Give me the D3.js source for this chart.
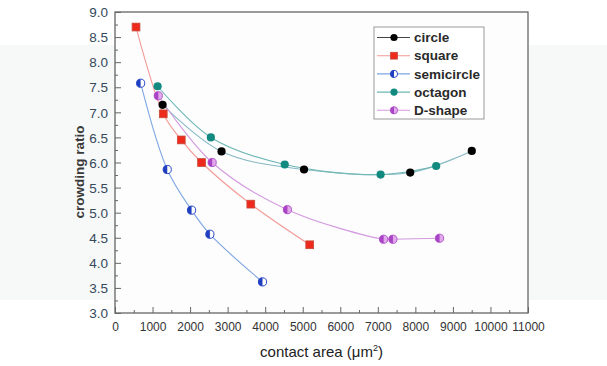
<!DOCTYPE html>
<html>
<head>
<meta charset="utf-8">
<script src="https://cdn.jsdelivr.net/npm/d3@7"></script>
<style>
  body { margin: 0; background: #fff; }
  text { font-family: "Liberation Sans", Arial, sans-serif; }
</style>
</head>
<body>
<div id="chart"></div>
<script>
// data
const circleX = [1268, 2837, 5035, 7863, 9503];
const circleY = [7.15, 6.22, 5.86, 5.80, 6.23];
const squareX = [560, 1285, 1765, 2305, 3617, 5186];
const squareY = [8.70, 6.97, 6.45, 6.00, 5.17, 4.36];
const semiX = [683, 1391, 2039, 2527, 3928];
const semiY = [7.58, 5.86, 5.05, 4.57, 3.62];
const octX = [1135, 2553, 4521, 7074, 8555];
const octY = [7.52, 6.50, 5.96, 5.76, 5.93];
const dX = [1153, 2588, 4592, 7154, 7402, 8644];
const dY = [7.33, 6.00, 5.06, 4.47, 4.47, 4.49];

const seriesNames = ["circle", "square", "semicircle", "octagon", "D-shape"];
const xTicks = d3.range(0, 11001, 1000);
const yTicks = d3.range(3.0, 9.01, 0.5);

const width = 607, height = 366;
const margin = { top: 12, right: 79, bottom: 53, left: 115 };
const w = width - margin.left - margin.right;
const h = height - margin.top - margin.bottom;

const series = [
  { name: "circle", xs: circleX, ys: circleY, line: "#86b9c4", marker: "circle" },
  { name: "square", xs: squareX, ys: squareY, line: "#f29a96", marker: "square" },
  { name: "semicircle", xs: semiX, ys: semiY, line: "#7ea6e4", marker: "semi" },
  { name: "octagon", xs: octX, ys: octY, line: "#6fb8b6", marker: "octagon" },
  { name: "D-shape", xs: dX, ys: dY, line: "#d39ae0", marker: "dshape" }
];

const svg = d3.select("#chart").append("svg")
  .attr("width", width).attr("height", height);

// faint scan band in the reference
svg.append("rect").attr("x", 0).attr("y", 45).attr("width", width).attr("height", 255)
  .attr("fill", "#f7f8f8");

const g = svg.append("g").attr("transform", "translate(" + margin.left + "," + margin.top + ")");

const x = d3.scaleLinear().domain([0, 11000]).range([0, w]);
const y = d3.scaleLinear().domain([3, 9]).range([h, 0]);

g.append("rect").attr("width", w).attr("height", h).attr("fill", "#fdfdfd");

// axes with inward ticks
const axisColor = "#666";
const xMinor = g.append("g").attr("transform", "translate(0," + h + ")")
  .call(d3.axisTop(x).tickValues(d3.range(500, 11000, 1000)).tickSize(3).tickFormat(""));
const xAxis = g.append("g").attr("transform", "translate(0," + h + ")")
  .call(d3.axisTop(x).tickValues(xTicks).tickSize(6).tickFormat(""));
xAxis.selectAll(".tick").append("text")
  .attr("y", 18).attr("text-anchor", "middle").attr("fill", "#333")
  .attr("font-size", 12).text(d => d);

const yMinor = g.append("g")
  .call(d3.axisRight(y).tickValues(d3.range(3.25, 9, 0.5)).tickSize(3).tickFormat(""));
const yAxis = g.append("g")
  .call(d3.axisRight(y).tickValues(yTicks).tickSize(6).tickFormat(""));
yAxis.selectAll(".tick").append("text")
  .attr("x", -7).attr("dy", "0.35em").attr("text-anchor", "end").attr("fill", "#34495a")
  .attr("font-size", 13.5).text(d => d3.format(".1f")(d));

[xMinor, xAxis, yMinor, yAxis].forEach(a => {
  a.select(".domain").remove();
  a.selectAll("line").attr("stroke", axisColor);
});

// frame
g.append("rect").attr("width", w).attr("height", h)
  .attr("fill", "none").attr("stroke", axisColor).attr("stroke-width", 1.3);

// axis titles
svg.append("text").attr("x", margin.left + w / 2).attr("y", 357)
  .attr("text-anchor", "middle").attr("font-size", 15).attr("fill", "#222")
  .html("contact area (&#956;m<tspan dy='-6' font-size='9'>2</tspan><tspan dy='6'>)</tspan>");
svg.append("text").attr("transform", "translate(84,172) rotate(-90)")
  .attr("text-anchor", "middle").attr("font-size", 13.5).attr("font-weight", "bold")
  .attr("fill", "#3a3a3a").text("crowding ratio");

// markers
function drawMarker(sel, type, r) {
  if (type === "circle") {
    sel.append("circle").attr("r", r).attr("fill", "#000");
  } else if (type === "square") {
    sel.append("rect").attr("x", -r * 0.95).attr("y", -r * 0.95).attr("width", 1.9 * r).attr("height", 1.9 * r)
      .attr("fill", "#ee2a1c").attr("stroke", "#c84a3a").attr("stroke-width", 0.8);
  } else if (type === "octagon") {
    sel.append("circle").attr("r", r).attr("fill", "#138a80");
  } else if (type === "semi") {
    sel.append("circle").attr("r", r).attr("fill", "#fff").attr("stroke", "#2a48c8").attr("stroke-width", 1);
    sel.append("path").attr("d", d3.arc()({ innerRadius: 0, outerRadius: r, startAngle: Math.PI, endAngle: 2 * Math.PI }))
      .attr("fill", "#1f3fc0");
  } else if (type === "dshape") {
    sel.append("circle").attr("r", r).attr("fill", "#e2a8ec").attr("stroke", "#b25ccc").attr("stroke-width", 1);
    sel.append("path").attr("d", d3.arc()({ innerRadius: 0, outerRadius: r, startAngle: Math.PI, endAngle: 2 * Math.PI }))
      .attr("fill", "#a944c4");
  }
}

const line = d3.line().curve(d3.curveCatmullRom.alpha(0.5))
  .x(d => x(d[0])).y(d => y(d[1]));

series.forEach(s => {
  const pts = s.xs.map((v, i) => [v, s.ys[i]]);
  g.append("path").datum(pts).attr("d", line)
    .attr("fill", "none").attr("stroke", s.line).attr("stroke-width", 1.1);
});

series.forEach(s => {
  const pts = s.xs.map((v, i) => [v, s.ys[i]]);
  g.selectAll(null).data(pts).join("g")
    .attr("transform", d => "translate(" + x(d[0]) + "," + y(d[1]) + ")")
    .each(function () { drawMarker(d3.select(this), s.marker, 4.1); });
});

// legend
const lg = svg.append("g").attr("transform", "translate(374,27)");
lg.append("rect").attr("width", 110).attr("height", 92)
  .attr("fill", "#fff").attr("stroke", "#999").attr("stroke-width", 1);
series.forEach((s, i) => {
  const row = lg.append("g").attr("transform", "translate(0," + (10.5 + i * 18.2) + ")");
  row.append("line").attr("x1", 3).attr("x2", 36)
    .attr("stroke", i === 0 ? "#444" : s.line).attr("stroke-width", 1.1);
  drawMarker(row.append("g").attr("transform", "translate(20,0)"), s.marker, 3.6);
  row.append("text").attr("x", 40).attr("dy", "0.35em").attr("font-size", 13.5)
    .attr("font-weight", "bold").attr("fill", "#2a2a2a").text(seriesNames[i]);
});
</script>
</body>
</html>
